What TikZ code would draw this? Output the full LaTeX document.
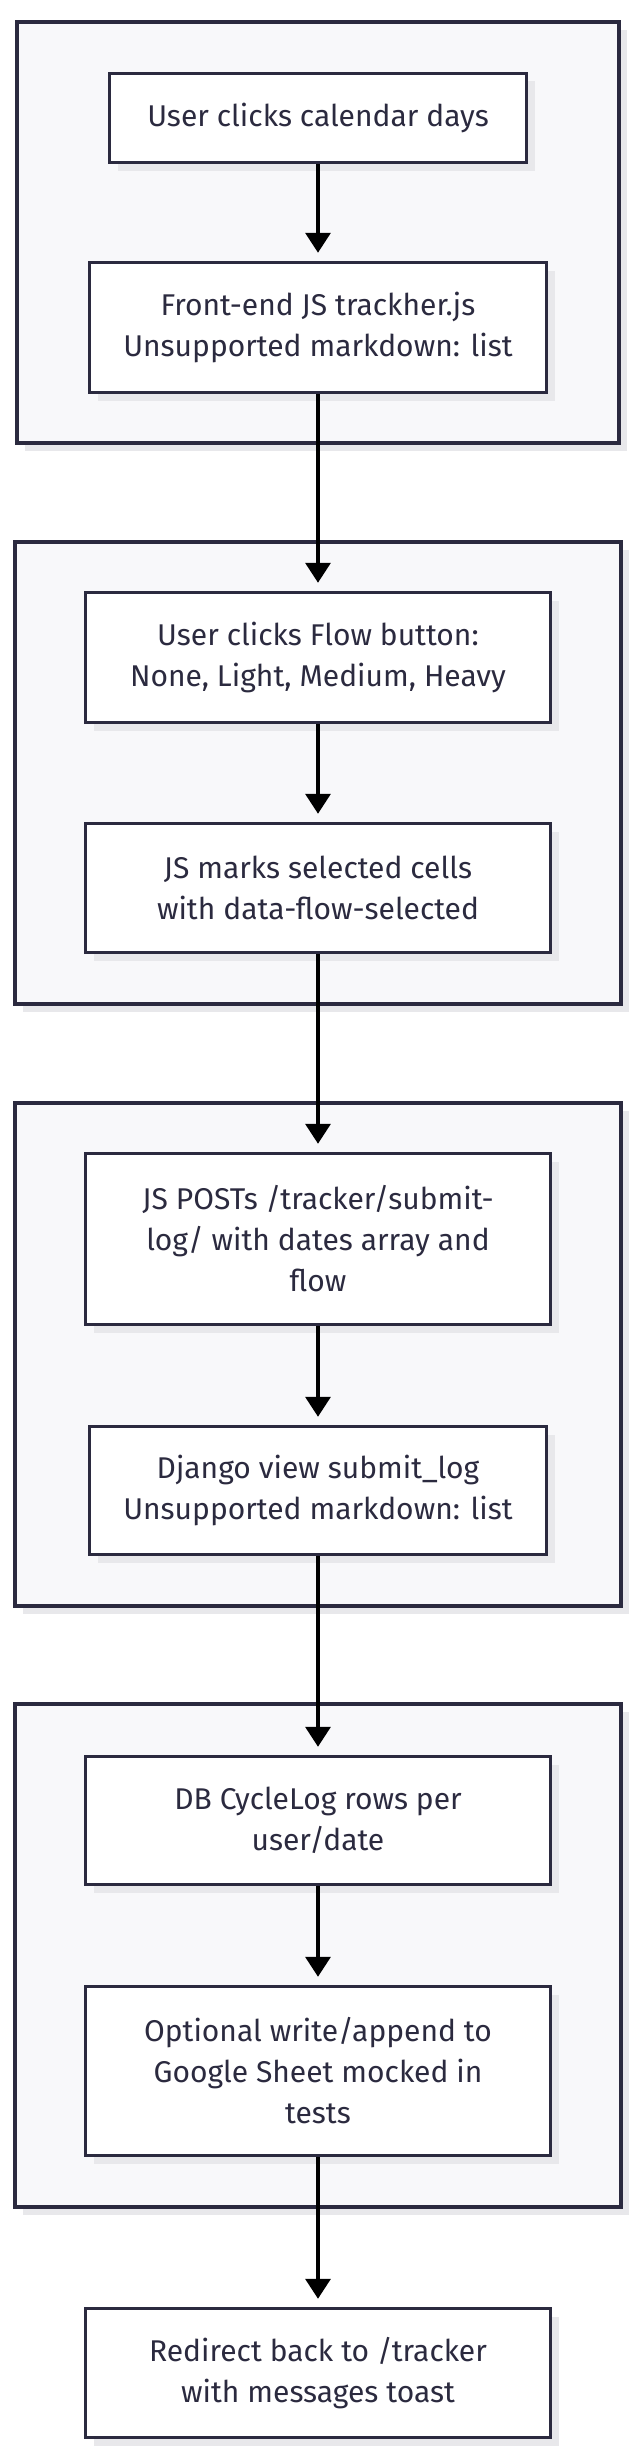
\documentclass[tikz,border=0pt]{standalone}
\usepackage{fontspec}
\setmainfont{Fira Sans}
\usetikzlibrary{arrows.meta,shadows}
\definecolor{inkc}{HTML}{2B2A3F}
\definecolor{clusterfill}{HTML}{F8F8FA}
\definecolor{shadowc}{HTML}{E8E8EB}
\begin{document}
\begin{tikzpicture}[x=1pt,y=-1pt,
    softshadow/.style={drop shadow={shadow xshift=8pt,shadow yshift=-8pt,fill=shadowc,opacity=1,draw=none}},
    cluster/.style={draw=inkc,line width=3.5pt,fill=clusterfill,softshadow},
    box/.style={draw=inkc,line width=3.5pt,fill=white,softshadow,text=inkc,
      align=center,inner sep=0pt,font=\fontsize{30}{41}\selectfont},
    flow/.style={draw=black,line width=3.5pt,-{Triangle[width=25pt,length=20pt]},shorten >=8pt}]
  \useasboundingbox (0,0) rectangle (636,2462);
  % clusters
  \draw[cluster] (17,22) rectangle (619,443);
  \draw[cluster] (15,542) rectangle (621,1004);
  \draw[cluster] (15,1103) rectangle (621,1606);
  \draw[cluster] (15,1704) rectangle (621,2207);
  % steps
  \draw
    (318,118) node[box,minimum width=417,minimum height=89] (days){User clicks calendar days}
    (318,327.5) node[box,minimum width=457,minimum height=130] (js){Front-end JS trackher.js\\Unsupported markdown: list}
    (318,657.5) node[box,minimum width=465,minimum height=130] (btn){User clicks Flow button:\\None, Light, Medium, Heavy}
    (318,888) node[box,minimum width=465,minimum height=129] (mark){JS marks selected cells\\with data-flow-selected}
    (318,1239) node[box,minimum width=465,minimum height=171] (post){JS POSTs /tracker/submit-\\log/ with dates array and\\flow}
    (318,1490.5) node[box,minimum width=457,minimum height=128] (view){Django view submit\_log\\Unsupported markdown: list}
    (318,1820.5) node[box,minimum width=465,minimum height=128] (db){DB CycleLog rows per\\user/date}
    (318,2071) node[box,minimum width=465,minimum height=169] (sheet){Optional write/append to\\Google Sheet mocked in\\tests}
    (318,2373) node[box,minimum width=465,minimum height=129] (back){Redirect back to /tracker\\with messages toast};
  \begin{scope}[flow]
    \draw (days) to (js);
    \draw (js) to (btn);
    \draw (btn) to (mark);
    \draw (mark) to (post);
    \draw (post) to (view);
    \draw (view) to (db);
    \draw (db) to (sheet);
    \draw (sheet) to (back);
  \end{scope}
\end{tikzpicture}
\end{document}
